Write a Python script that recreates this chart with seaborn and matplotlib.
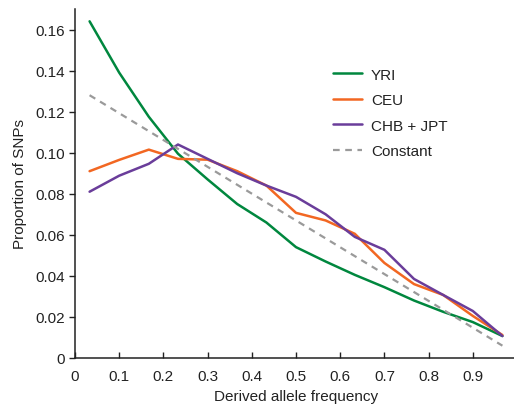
import numpy as np
import pandas as pd
import seaborn as sns
import matplotlib
matplotlib.use('Agg')
import matplotlib.pyplot as plt

# bin centres of derived allele frequency (15 bins)
freq = [0.033, 0.1, 0.167, 0.233, 0.3, 0.367, 0.433, 0.5,
        0.567, 0.633, 0.7, 0.767, 0.833, 0.9, 0.967]

yri = [0.164, 0.139, 0.1175, 0.0995, 0.087, 0.075, 0.066, 0.054,
       0.047, 0.0405, 0.0345, 0.028, 0.0225, 0.0175, 0.0107]
ceu = [0.091, 0.0965, 0.1015, 0.097, 0.0966, 0.091, 0.084, 0.0707,
       0.067, 0.0605, 0.0463, 0.036, 0.0307, 0.0205, 0.0112]
chb_jpt = [0.081, 0.0888, 0.0946, 0.104, 0.097, 0.090, 0.084, 0.0785,
           0.070, 0.059, 0.0527, 0.0385, 0.0307, 0.0229, 0.0107]

const_x = [0.033, 0.967]
const_y = [0.128, 0.006]

pops = ['YRI', 'CEU', 'CHB + JPT']
colors = {'YRI': '#00873e', 'CEU': '#f26722', 'CHB + JPT': '#6a3d9a'}

df = pd.DataFrame({
    'freq': freq * 3,
    'prop': yri + ceu + chb_jpt,
    'pop': np.repeat(pops, len(freq)),
})

sns.set_style('ticks')
plt.rcParams['font.family'] = ['Liberation Sans', 'DejaVu Sans']

fig = plt.figure(figsize=(5.14, 4.06), dpi=100)
ax = fig.add_axes([75 / 514, 47 / 406, 442 / 514, 349 / 406])

sns.lineplot(data=df, x='freq', y='prop', hue='pop', hue_order=pops,
             palette=colors, linewidth=1.8, ax=ax)
ax.plot(const_x, const_y, color='#9a9a9a', linestyle=(0, (3, 2.5)),
        linewidth=1.6, label='Constant')

ax.set_xlim(0, 1)
ax.set_ylim(0, 0.170)
ax.set_xticks(np.arange(0, 1.01, 0.1))
ax.set_xticklabels(['0', '0.1', '0.2', '0.3', '0.4', '0.5', '0.6', '0.7', '0.8', '0.9', '1'])
ax.set_yticks(np.arange(0, 0.161, 0.02))
ax.set_yticklabels(['0', '0.02', '0.04', '0.06', '0.08', '0.10', '0.12', '0.14', '0.16'])
ax.tick_params(axis='x', direction='in', length=4, width=1, labelsize=11, pad=8, colors='#222222')
ax.tick_params(axis='y', direction='out', length=4, width=1, labelsize=11, pad=3, colors='#222222')
sns.despine(ax=ax)
for s in ['left', 'bottom']:
    ax.spines[s].set_linewidth(1.1)
    ax.spines[s].set_color('#222222')

ax.set_xlabel('Derived allele frequency', fontsize=11, labelpad=4, color='#222222')
ax.set_ylabel('Proportion of SNPs', fontsize=11, labelpad=6, color='#222222')

handles, labels = ax.get_legend_handles_labels()
leg = ax.legend(handles, labels, loc='upper left', bbox_to_anchor=(319 / 514, 1 - 55 / 406),
                bbox_transform=fig.transFigure, frameon=False, fontsize=11,
                handlelength=1.9, handletextpad=0.6, labelspacing=0.75)
for t in leg.get_texts():
    t.set_color('#222222')

plt.savefig('out.png', dpi=100)
